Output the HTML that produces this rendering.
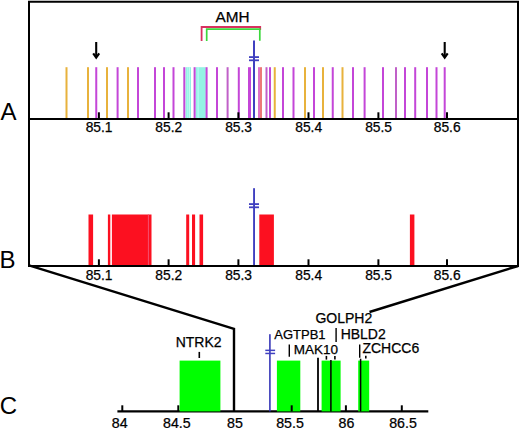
<!DOCTYPE html>
<html><head><meta charset="utf-8"><style>
html,body{margin:0;padding:0;background:#fff;overflow:hidden;}
svg{display:block;}
text{font-family:"Liberation Sans",sans-serif;fill:#000;stroke:#000;stroke-width:0.25px;}
</style></head><body>
<svg width="520" height="428" viewBox="0 0 520 428">
<rect width="520" height="428" fill="#fff"/>
<rect x="185.6" y="67.2" width="5.4" height="51.8" fill="#94F2E4"/>
<rect x="187.4" y="67.2" width="0.8" height="51.8" fill="#B8FCF4"/>
<rect x="189.2" y="67.2" width="0.8" height="51.8" fill="#D0FAF4"/>
<rect x="195.6" y="67.2" width="10.2" height="51.8" fill="#94F2E4"/>
<rect x="197.6" y="67.2" width="1" height="51.8" fill="#BEFCFA"/>
<rect x="65.50" y="67.2" width="2" height="51.8" fill="#E8B23C"/>
<rect x="87.00" y="67.2" width="2" height="51.8" fill="#E8B23C"/>
<rect x="95.25" y="67.2" width="2" height="51.8" fill="#C446D8"/>
<rect x="106.00" y="67.2" width="2" height="51.8" fill="#E8B23C"/>
<rect x="116.60" y="67.2" width="2" height="51.8" fill="#C446D8"/>
<rect x="127.00" y="67.2" width="2" height="51.8" fill="#E8B23C"/>
<rect x="137.00" y="67.2" width="2" height="51.8" fill="#C446D8"/>
<rect x="154.00" y="67.2" width="2" height="51.8" fill="#C446D8"/>
<rect x="163.00" y="67.2" width="2" height="51.8" fill="#C446D8"/>
<rect x="172.50" y="67.2" width="2" height="51.8" fill="#C446D8"/>
<rect x="183.30" y="67.2" width="2" height="51.8" fill="#C446D8"/>
<rect x="193.60" y="67.2" width="2" height="51.8" fill="#C446D8"/>
<rect x="205.60" y="67.2" width="2" height="51.8" fill="#C446D8"/>
<rect x="216.00" y="67.2" width="2" height="51.8" fill="#C446D8"/>
<rect x="226.60" y="67.2" width="2" height="51.8" fill="#C060C8"/>
<rect x="237.80" y="67.2" width="2" height="51.8" fill="#C446D8"/>
<rect x="248.00" y="67.2" width="3" height="51.8" fill="#C446D8"/>
<rect x="265.50" y="67.2" width="2" height="51.8" fill="#C060C8"/>
<rect x="269.00" y="67.2" width="2" height="51.8" fill="#C446D8"/>
<rect x="273.75" y="67.2" width="2" height="51.8" fill="#E8B23C"/>
<rect x="282.00" y="67.2" width="2" height="51.8" fill="#C446D8"/>
<rect x="292.50" y="67.2" width="2" height="51.8" fill="#C446D8"/>
<rect x="304.00" y="67.2" width="2" height="51.8" fill="#E8B23C"/>
<rect x="313.00" y="67.2" width="2" height="51.8" fill="#C446D8"/>
<rect x="322.00" y="67.2" width="2" height="51.8" fill="#E8B23C"/>
<rect x="331.75" y="67.2" width="2" height="51.8" fill="#C446D8"/>
<rect x="341.50" y="67.2" width="2" height="51.8" fill="#E8B23C"/>
<rect x="352.00" y="67.2" width="2" height="51.8" fill="#C446D8"/>
<rect x="363.60" y="67.2" width="2" height="51.8" fill="#C446D8"/>
<rect x="382.00" y="67.2" width="2" height="51.8" fill="#C446D8"/>
<rect x="395.00" y="67.2" width="2" height="51.8" fill="#C060C8"/>
<rect x="404.00" y="67.2" width="2" height="51.8" fill="#C446D8"/>
<rect x="414.20" y="67.2" width="2" height="51.8" fill="#C446D8"/>
<rect x="426.00" y="67.2" width="2" height="51.8" fill="#C446D8"/>
<rect x="435.50" y="67.2" width="2" height="51.8" fill="#C446D8"/>
<rect x="443.70" y="67.2" width="2" height="51.8" fill="#C446D8"/>
<rect x="258" y="67.2" width="2" height="51.8" fill="#E070C8"/>
<rect x="260" y="67.2" width="2" height="51.8" fill="#EC7878"/>
<rect x="253" y="40.5" width="2" height="78.5" fill="#4040C0"/>
<rect x="249" y="56.2" width="10" height="1.8" fill="#4040C0"/>
<rect x="249" y="59.4" width="10" height="1.8" fill="#4040C0"/>
<path d="M201.6 41 V27 H260.2 V30" fill="none" stroke="#D83060" stroke-width="1.8"/>
<path d="M206.7 41 V29.2 H259.8 V40.8" fill="none" stroke="#3CD83C" stroke-width="1.7"/>
<text x="232.5" y="21.6" font-size="15.3" text-anchor="middle">AMH</text>
<path d="M96.2 42 V57" stroke="#000" stroke-width="2.1" fill="none"/>
<path d="M93.2 53.4 L96.2 57.6 L99.2 53.4" stroke="#000" stroke-width="2.2" fill="none" stroke-linejoin="miter"/>
<path d="M444.7 42 V57" stroke="#000" stroke-width="2.1" fill="none"/>
<path d="M441.7 53.4 L444.7 57.6 L447.7 53.4" stroke="#000" stroke-width="2.2" fill="none" stroke-linejoin="miter"/>
<path d="M29 266 V1.8 H518 V266 Z" fill="none" stroke="#000" stroke-width="2"/>
<path d="M29 119 H518" stroke="#000" stroke-width="2"/>
<path d="M98.9 119 V112.3" stroke="#000" stroke-width="2"/>
<text x="99.10000000000001" y="131.9" font-size="13.8" text-anchor="middle">85.1</text>
<path d="M98.9 266 V259.3" stroke="#000" stroke-width="2"/>
<text x="99.10000000000001" y="279.9" font-size="13.8" text-anchor="middle">85.1</text>
<path d="M168.6 119 V112.3" stroke="#000" stroke-width="2"/>
<text x="168.79999999999998" y="131.9" font-size="13.8" text-anchor="middle">85.2</text>
<path d="M168.6 266 V259.3" stroke="#000" stroke-width="2"/>
<text x="168.79999999999998" y="279.9" font-size="13.8" text-anchor="middle">85.2</text>
<path d="M238.4 119 V112.3" stroke="#000" stroke-width="2"/>
<text x="238.6" y="131.9" font-size="13.8" text-anchor="middle">85.3</text>
<path d="M238.4 266 V259.3" stroke="#000" stroke-width="2"/>
<text x="238.6" y="279.9" font-size="13.8" text-anchor="middle">85.3</text>
<path d="M308.5 119 V112.3" stroke="#000" stroke-width="2"/>
<text x="308.7" y="131.9" font-size="13.8" text-anchor="middle">85.4</text>
<path d="M308.5 266 V259.3" stroke="#000" stroke-width="2"/>
<text x="308.7" y="279.9" font-size="13.8" text-anchor="middle">85.4</text>
<path d="M378.4 119 V112.3" stroke="#000" stroke-width="2"/>
<text x="378.59999999999997" y="131.9" font-size="13.8" text-anchor="middle">85.5</text>
<path d="M378.4 266 V259.3" stroke="#000" stroke-width="2"/>
<text x="378.59999999999997" y="279.9" font-size="13.8" text-anchor="middle">85.5</text>
<path d="M447 119 V112.3" stroke="#000" stroke-width="2"/>
<text x="447.2" y="131.9" font-size="13.8" text-anchor="middle">85.6</text>
<path d="M447 266 V259.3" stroke="#000" stroke-width="2"/>
<text x="447.2" y="279.9" font-size="13.8" text-anchor="middle">85.6</text>
<rect x="88.5" y="214.5" width="4.60" height="50.5" fill="#FC1020"/>
<rect x="107.9" y="214.5" width="2.40" height="50.5" fill="#FC1020"/>
<rect x="111.9" y="214.5" width="39.60" height="50.5" fill="#FC1020"/>
<rect x="186.2" y="214.5" width="3.00" height="50.5" fill="#FC1020"/>
<rect x="192" y="214.5" width="3.10" height="50.5" fill="#FC1020"/>
<rect x="199.5" y="214.5" width="3.60" height="50.5" fill="#FC1020"/>
<rect x="259.3" y="214.5" width="14.60" height="50.5" fill="#FC1020"/>
<rect x="409.9" y="214.5" width="4.50" height="50.5" fill="#FC1020"/>
<rect x="147.9" y="214.5" width="1" height="50.5" fill="#F45070"/>
<rect x="253.1" y="188.2" width="1.9" height="76.8" fill="#4040C0"/>
<rect x="249" y="203.2" width="10" height="1.8" fill="#4040C0"/>
<rect x="249" y="206.4" width="10" height="1.8" fill="#4040C0"/>
<path d="M29 265.4 L234 328.9 V411.5" fill="none" stroke="#000" stroke-width="2.4" stroke-linejoin="miter"/>
<path d="M518 266 L369.5 312" fill="none" stroke="#000" stroke-width="2.4"/>
<path d="M117.4 411.4 H428.3" stroke="#000" stroke-width="2.2"/>
<path d="M122.3 411.4 V405.3" stroke="#000" stroke-width="2"/>
<text x="119.7" y="427.8" font-size="14.2" text-anchor="middle">84</text>
<path d="M178.3 411.4 V405.3" stroke="#000" stroke-width="2"/>
<text x="176.9" y="427.8" font-size="14.2" text-anchor="middle">84.5</text>
<path d="M234 411.4 V405.3" stroke="#000" stroke-width="2"/>
<text x="234.9" y="427.8" font-size="14.2" text-anchor="middle">85</text>
<path d="M291.4 411.4 V405.3" stroke="#000" stroke-width="2"/>
<text x="290.05" y="427.8" font-size="14.2" text-anchor="middle">85.5</text>
<path d="M345.9 411.4 V405.3" stroke="#000" stroke-width="2"/>
<text x="346.4" y="427.8" font-size="14.2" text-anchor="middle">86</text>
<path d="M401.8 411.4 V405.3" stroke="#000" stroke-width="2"/>
<text x="403" y="427.8" font-size="14.2" text-anchor="middle">86.5</text>
<rect x="179.6" y="360.6" width="40.8" height="50.8" fill="#00FF00"/>
<rect x="276.9" y="360.6" width="23.4" height="50.8" fill="#00FF00"/>
<rect x="321.6" y="360.6" width="19.0" height="50.8" fill="#00FF00"/>
<rect x="358.2" y="360.6" width="11.0" height="50.8" fill="#00FF00"/>
<path d="M291.7 411.4 V405.3" stroke="#000" stroke-width="2"/>
<path d="M318 357.7 V411.4" stroke="#000" stroke-width="1.8"/>
<path d="M330.9 360 V411.4" stroke="#000" stroke-width="1.5"/>
<path d="M360.6 358.7 V411.4" stroke="#000" stroke-width="1.5"/>
<rect x="269.1" y="334.2" width="1.6" height="77.2" fill="#3838B8"/>
<rect x="265.3" y="349.6" width="9.8" height="1.5" fill="#4040C0"/>
<rect x="265.3" y="352.7" width="9.8" height="1.5" fill="#4040C0"/>
<path d="M199.3 351.9 V358" stroke="#000" stroke-width="1.6"/>
<path d="M326.4 355.9 V359.6" stroke="#000" stroke-width="1.6"/>
<path d="M334.9 355.9 V359.6" stroke="#000" stroke-width="1.6"/>
<path d="M365.8 355.8 V358.6" stroke="#000" stroke-width="1.6"/>
<path d="M289.3 344.4 V356.8" stroke="#000" stroke-width="1.4"/>
<path d="M336.1 328 V342" stroke="#000" stroke-width="1.4"/>
<path d="M359.7 344.6 V357.8" stroke="#000" stroke-width="1.4"/>
<text x="198.6" y="346.5" font-size="14" text-anchor="middle">NTRK2</text>
<text x="343.8" y="323" font-size="14" text-anchor="middle">GOLPH2</text>
<text x="299.9" y="338.5" font-size="13" text-anchor="middle">AGTPB1</text>
<text x="363.2" y="338.8" font-size="14" text-anchor="middle">HBLD2</text>
<text x="315.9" y="353.5" font-size="13.5" text-anchor="middle">MAK10</text>
<text x="390.8" y="353.3" font-size="14" text-anchor="middle">ZCHCC6</text>
<text x="0.5" y="120" font-size="24" style="stroke-width:0">A</text>
<text x="-0.4" y="268" font-size="24" style="stroke-width:0">B</text>
<text x="-0.3" y="413.6" font-size="24" style="stroke-width:0">C</text>
</svg>
</body></html>
